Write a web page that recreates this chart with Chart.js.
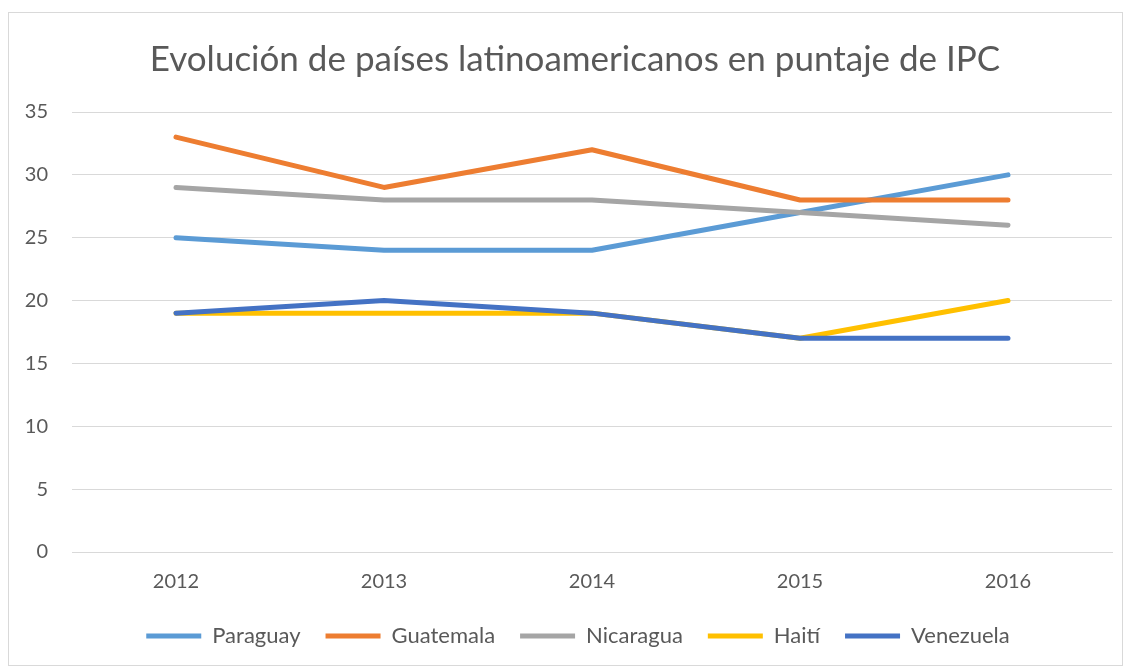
<!DOCTYPE html>
<html>
<head>
<meta charset="utf-8">
<script src="https://cdn.jsdelivr.net/npm/chart.js@4/dist/chart.umd.min.js"></script>
<style>
  body { margin: 0; background: #fff; }
  #frame { position: absolute; left: 8px; top: 12px; width: 1113px; height: 652px; border: 1px solid #d9d9d9; }
  #wrap { position: absolute; left: 9px; top: 13px; width: 1112px; height: 651px; }
</style>
</head>
<body>
<div id="frame"></div>
<div id="wrap"><canvas id="ipcChart"></canvas></div>
<script>
// datos
const years = ["2012", "2013", "2014", "2015", "2016"];
const paraguay  = [25, 24, 24, 27, 30];
const guatemala = [33, 29, 32, 28, 28];
const nicaragua = [29, 28, 28, 27, 26];
const haiti     = [19, 19, 19, 17, 20];
const venezuela = [19, 20, 19, 17, 17];

const names  = ["Paraguay", "Guatemala", "Nicaragua", "Haití", "Venezuela"];
const series = [paraguay, guatemala, nicaragua, haiti, venezuela];
const colors = ["#5B9BD5", "#ED7D31", "#A5A5A5", "#FFC000", "#4472C4"];

const textColor = "#595959";
const font = "Lato, 'Open Sans', sans-serif";

const datasets = series.map((vals, i) => ({
  label: names[i],
  data: vals,
  borderColor: colors[i],
  backgroundColor: colors[i],
  borderWidth: 5,
  borderCapStyle: "round",
  borderJoinStyle: "round",
  pointRadius: 0,
  tension: 0,
  order: series.length - i   // la ultima serie encima, como en Excel
}));

// titulo y leyenda un poco a la derecha, centrados como en Excel
const shiftBoxes = {
  id: "shiftBoxes",
  afterLayout(chart) {
    chart.titleBlock.left += 8;
    chart.titleBlock.right += 8;
    chart.legend.left += 11;
    chart.legend.right += 11;
  }
};

const ctx = document.getElementById("ipcChart").getContext("2d");
const ipcChart = new Chart(ctx, {
  type: "line",
  data: { labels: years, datasets: datasets },
  plugins: [shiftBoxes],
  options: {
    responsive: true,
    maintainAspectRatio: false,
    animation: false,
    layout: { padding: { left: 13, right: 9, top: 0, bottom: 7 } },
    plugins: {
      title: {
        display: true,
        text: "Evolución de países latinoamericanos en puntaje de IPC",
        color: textColor,
        font: { family: font, size: 35, weight: "normal" },
        padding: { top: 26, bottom: 31 }
      },
      legend: {
        position: "bottom",
        labels: {
          color: textColor,
          font: { family: font, size: 22 },
          usePointStyle: true,
          pointStyle: "line",
          pointStyleWidth: 55,
          boxHeight: 22,
          padding: 25,
          sort: (a, b) => a.datasetIndex - b.datasetIndex
        }
      },
      tooltip: { enabled: false }
    },
    scales: {
      x: {
        offset: true,
        grid: { display: false, drawTicks: false },
        border: { display: true, color: "#d9d9d9", width: 1 },
        ticks: { color: textColor, font: { family: font, size: 20 }, padding: 18 },
        afterFit: (scale) => { scale.height = 48; }
      },
      y: {
        min: 0,
        max: 35,
        ticks: { stepSize: 5, color: textColor, font: { family: font, size: 20 }, padding: 24 },
        grid: { color: "#d9d9d9", lineWidth: 1, drawTicks: false },
        border: { display: false },
        afterFit: (scale) => { scale.width = 50; }
      }
    }
  }
});
</script>
</body>
</html>
